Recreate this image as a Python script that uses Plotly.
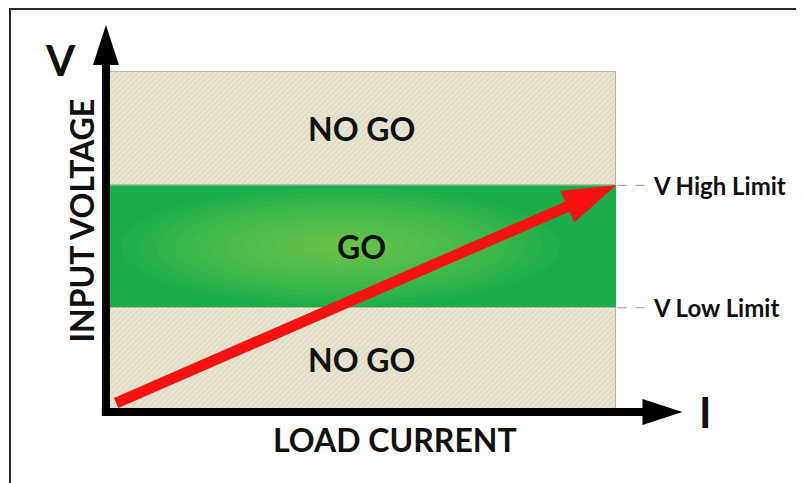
import plotly.graph_objects as go

# operating window (load current in A, input voltage in V)
i_max = 10
v_low = 9.2
v_high = 20
v_max = 30

zones = ['NO GO', 'GO', 'NO GO']
zone_bottom = [0, v_low, v_high]
zone_top = [v_low, v_high, v_max]

# operating line of the supply
line_i = [0.2, 10]
line_v = [0.8, 20]

limit_labels = ['V High Limit', 'V Low Limit']
limit_values = [v_high, v_low]

# where the axis arrows end
axis_i_tip = 11.3
axis_v_tip = 34.15

beige = '#e0dcc3'
stripe = '#f6f5ec'
green = '#1aae4a'
glow = '#b8de5a'
red = '#fa1010'
ink = '#111111'

fig = go.Figure()

# GO band and its glow sit under the traces
for nome, lo, hi in zip(zones, zone_bottom, zone_top):
    if nome == 'GO':
        fig.add_shape(type='rect', xref='x', yref='y', layer='below',
                      x0=0, x1=i_max, y0=lo, y1=hi,
                      fillcolor=green, line_width=0)
        centro_i = 4.6
        centro_v = (lo + hi) / 2
        for k in [1.0, 0.92, 0.84, 0.76, 0.68, 0.6, 0.52, 0.44,
                  0.37, 0.3, 0.24, 0.18, 0.12, 0.07]:
            fig.add_shape(type='circle', xref='x', yref='y', layer='below',
                          x0=centro_i - 4.3 * k, x1=centro_i + 4.3 * k,
                          y0=centro_v - 5.2 * k, y1=centro_v + 5.2 * k,
                          fillcolor=glow, opacity=0.055, line_width=0)
    else:
        fig.add_trace(go.Bar(
            x=[i_max / 2], y=[hi - lo], base=[lo], width=[i_max],
            marker=dict(
                color=beige,
                line=dict(color='#b9b59c', width=1),
                pattern=dict(shape='/', size=4, solidity=0.4,
                             fgcolor=stripe, bgcolor=beige)
            ),
            hoverinfo='skip', showlegend=False
        ))

# axes with arrow heads
fig.add_trace(go.Scatter(
    x=[0, 0], y=[-0.35, axis_v_tip], mode='lines+markers',
    line=dict(color='black', width=8),
    marker=dict(symbol=['square', 'arrow'], size=[0, 42], opacity=1,
                angleref='previous', color='black', line_width=0),
    hoverinfo='skip', showlegend=False
))
fig.add_trace(go.Scatter(
    x=[-0.08, axis_i_tip], y=[0, 0], mode='lines+markers',
    line=dict(color='black', width=8),
    marker=dict(symbol=['square', 'arrow'], size=[0, 42], opacity=1,
                angleref='previous', color='black', line_width=0),
    hoverinfo='skip', showlegend=False
))

# operating line
fig.add_trace(go.Scatter(
    x=line_i, y=line_v, mode='lines+markers',
    line=dict(color=red, width=11),
    marker=dict(symbol=['circle', 'arrow'], size=[11, 56], opacity=1,
                angleref='previous', color=red, line_width=0),
    hoverinfo='skip', showlegend=False
))

for nome, lo, hi in zip(zones, zone_bottom, zone_top):
    fig.add_annotation(x=i_max / 2, y=(lo + hi) / 2, text=nome,
                       showarrow=False, font=dict(size=32, color=ink))

for rotulo, valor in zip(limit_labels, limit_values):
    fig.add_shape(type='line', xref='x', yref='y',
                  x0=i_max + 0.03, x1=i_max + 0.58, y0=valor, y1=valor,
                  line=dict(color='#9a9a9a', width=1, dash='dash'))
    fig.add_annotation(x=i_max + 0.68, y=valor, text=rotulo,
                       xanchor='left', showarrow=False,
                       font=dict(size=24, color=ink))

fig.add_annotation(x=-0.9, y=31.1, text='V', showarrow=False,
                   font=dict(size=42, color=ink))
fig.add_annotation(x=-0.47, y=16.9, text='INPUT VOLTAGE', textangle=-90,
                   showarrow=False, font=dict(size=32, color=ink))
fig.add_annotation(x=5.67, y=-2.45, text='LOAD CURRENT', showarrow=False,
                   font=dict(size=32, color=ink))
fig.add_annotation(x=11.75, y=0, text='I', showarrow=False,
                   font=dict(size=42, color=ink))

# outer frame
fig.add_shape(type='rect', xref='paper', yref='paper',
              x0=2 / 804, x1=1.02, y0=-0.05, y1=1 - 1 / 483,
              line=dict(color='#2b2b2b', width=2))

fig.update_layout(
    width=804,
    height=483,
    autosize=False,
    margin=dict(l=0, r=0, t=0, b=0),
    barmode='overlay',
    bargap=0,
    plot_bgcolor='white',
    paper_bgcolor='white',
    font=dict(family='Lato', weight='bold', color=ink),
    xaxis=dict(range=[-1.92, 13.84], visible=False, fixedrange=True),
    yaxis=dict(range=[-6.97, 35.65], visible=False, fixedrange=True),
    showlegend=False
)

fig.write_html("out.html")
